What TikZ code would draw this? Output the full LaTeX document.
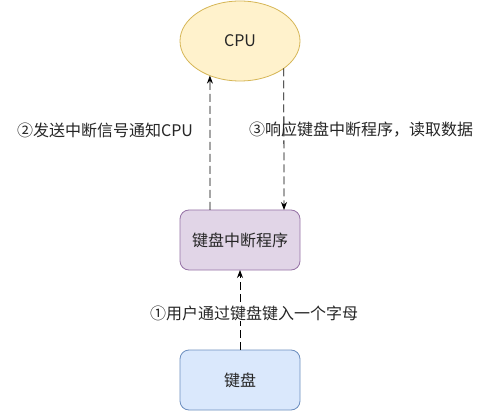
\documentclass[tikz,border=0pt]{standalone}
\usepackage{fontspec}
\setmainfont{Noto Sans CJK SC}
\usetikzlibrary{arrows.meta,positioning,shapes.geometric}

\definecolor{cpufill}{HTML}{FFF2CC}
\definecolor{cpuline}{HTML}{D6B656}
\definecolor{isrfill}{HTML}{E1D5E7}
\definecolor{isrline}{HTML}{9673A6}
\definecolor{kbdfill}{HTML}{DAE8FC}
\definecolor{kbdline}{HTML}{6C8EBF}

\begin{document}
\begin{tikzpicture}[x=1pt,y=-1pt,>={Stealth[length=8pt,width=6pt]},
    every node/.style={font=\fontsize{16}{19}\selectfont,text=black!85},
    unit/.style={draw,rounded corners=9pt,minimum width=120pt,
      minimum height=60pt,outer sep=0pt,line width=0.8pt},
    flow/.style={->,dash pattern=on 8pt off 4pt,line width=0.8pt}]

  \fill[white] (0,0) rectangle (486,411);
  \useasboundingbox (0,0) rectangle (486,411);

  \node[ellipse,draw=cpuline,fill=cpufill,line width=0.8pt,outer sep=0pt,
    minimum width=120pt,minimum height=80pt] (cpu) at (240,41) {CPU};
  \node[unit,draw=isrline,fill=isrfill] (isr) [below=129pt of cpu] {键盘中断程序};
  \node[unit,draw=kbdline,fill=kbdfill] (kbd) [below=80pt of isr] {键盘};

  % connectors
  \draw[flow] ([xshift=-30pt]isr.north) -- (cpu.229.1);
  \draw[flow] (cpu.328.3) -- ([xshift=44pt]isr.north);
  \draw[flow] (kbd.north) -- (isr.south);

  % labels
  \node (notify) at (105,130) {②发送中断信号通知CPU};
  \node (answer) at (361,130) {③响应键盘中断程序，读取数据};
  \node[fill=white,inner sep=1pt] (press) at (254,313) {①用户通过键盘键入一个字母};

\end{tikzpicture}
\end{document}
